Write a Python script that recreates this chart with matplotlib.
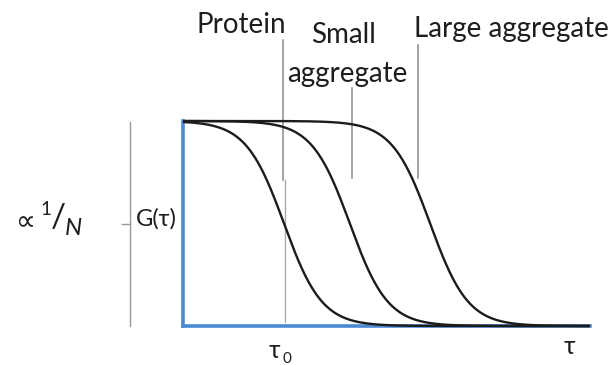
import numpy as np
import matplotlib.pyplot as plt

# Characteristic diffusion times (arbitrary units) of the three species
species = ["Protein", "Small\naggregate", "Large aggregate"]
tau_d = [1.0, 32.0, 2200.0]
amplitude = [1.0, 1.0, 1.0]
tau_range = [10 ** -2.31, 10 ** 7.0]

W, H = 611, 365
fig = plt.figure(figsize=(W / 100, H / 100), dpi=100)
fig.patch.set_facecolor("white")

def px_rect(x0, y0, x1, y1):
    return [x0 / W, 1 - y1 / H, (x1 - x0) / W, (y1 - y0) / H]

# Correlation curves
ax = fig.add_axes(px_rect(183, 121, 590, 326))
ax.set_xscale("log")
ax.set_xlim(*tau_range)
ax.set_ylim(0, 1)
tau = np.logspace(np.log10(tau_range[0]), np.log10(tau_range[1]), 800)
for td, a in zip(tau_d, amplitude):
    g = a / (1 + tau / td)
    ax.plot(tau, g, color="#1c1c1c", lw=1.7, clip_on=False, zorder=4,
            solid_capstyle="butt")
for side in ("top", "right"):
    ax.spines[side].set_visible(False)
for side in ("left", "bottom"):
    ax.spines[side].set_color("#4a8ad4")
    ax.spines[side].set_linewidth(2.6)
ax.set_xticks([])
ax.set_yticks([])
ax.minorticks_off()
ax.patch.set_alpha(0)

# Overlay in pixel coordinates for labels and pointer lines
ov = fig.add_axes([0, 0, 1, 1], zorder=-1)
ov.set_xlim(0, W)
ov.set_ylim(H, 0)
ov.axis("off")

fam = ["Lato", "Open Sans", "DejaVu Sans"]
fs = 20
ink = "#1e1e1e"
grey = "#8a8a8a"

ov.text(241, 33, "Protein", ha="center", va="baseline", fontsize=fs, family=fam, color=ink)
ov.text(344, 43, "Small", ha="center", va="baseline", fontsize=fs, family=fam, color=ink)
ov.text(347, 82, "aggregate", ha="center", va="baseline", fontsize=fs, family=fam, color=ink)
ov.text(511, 37, "Large aggregate", ha="center", va="baseline", fontsize=fs, family=fam, color=ink)

# pointer lines
ov.plot([283, 283], [40, 180], color=grey, lw=1.1)
ov.plot([285, 285], [180, 322], color="#aaaaaa", lw=1.0)
ov.plot([352, 352], [88, 178], color=grey, lw=1.1)
ov.plot([418, 418], [45, 178], color=grey, lw=1.1)

# left bracket for amplitude
ov.plot([130, 130], [122, 326], color="#9a9a9a", lw=1.0)
ov.plot([122, 130], [224, 224], color="#9a9a9a", lw=1.0)
ov.text(136, 226, "G(τ)", ha="left", va="baseline", fontsize=17, family=fam, color=ink)
ov.text(16, 222, "∝", ha="left", va="center", fontsize=20, family=["DejaVu Sans"], color=ink)
ov.text(40, 215, "1", ha="left", va="baseline", fontsize=13.5, family=fam, color=ink)
ov.text(51, 218, "/", ha="left", va="center", fontsize=24, family=fam, color=ink)
ov.text(65, 235, "N", ha="left", va="baseline", fontsize=17.5, family=fam, style="italic", color=ink)

# time axis labels
ov.text(274, 351, "τ", ha="center", va="center", fontsize=18, family=fam, color=ink)
ov.text(287, 352, "0", ha="center", va="top", fontsize=11, family=fam, color=ink)
ov.text(569, 346, "τ", ha="center", va="center", fontsize=18, family=fam, color=ink)

fig.savefig("out.png", dpi=100, facecolor="white")
